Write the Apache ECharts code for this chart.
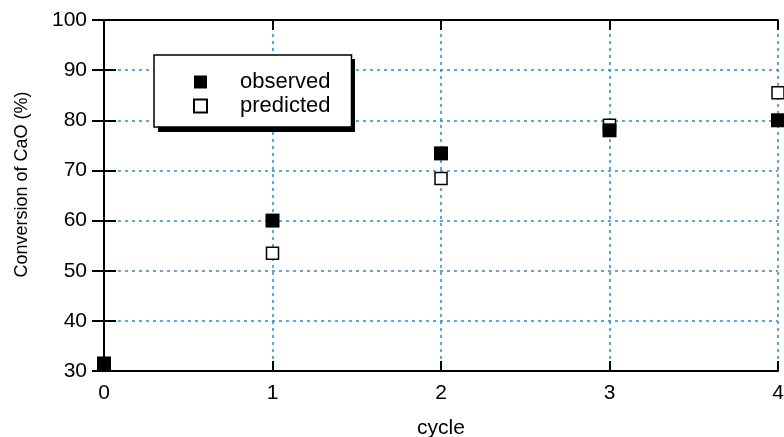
<!DOCTYPE html>
<html><head><meta charset="utf-8">
<script src="https://cdn.jsdelivr.net/npm/echarts@6/dist/echarts.min.js"></script>
<style>html,body{margin:0;padding:0;background:#fff}#c{width:784px;height:437px}</style>
</head><body><div id="c"></div>
<script>
const cycles = [0, 1, 2, 3, 4];
const observed = [31.5, 60, 73.4, 78, 80];
const predictedCycles = [1, 2, 3, 4];
const predicted = [53.5, 68.4, 79, 85.5];
const yTicks = [30, 40, 50, 60, 70, 80, 90, 100];

const chart = echarts.init(document.getElementById('c'));
const font = 'Liberation Sans, Arial, Helvetica, sans-serif';
const grid = '#3189c2';
chart.setOption({
  animation: false,
  textStyle: {fontFamily: font},
  grid: {left: 104, right: 6, top: 20, bottom: 66, outerBoundsMode: 'none', containLabel: false},
  graphic: [{
    type: 'rect', left: 158, top: 59, z: 1,
    shape: {width: 197, height: 73},
    style: {fill: '#000'}
  }],
  legend: {
    orient: 'vertical', left: 154, top: 55, z: 5,
    data: ['observed', 'predicted'],
    itemWidth: 13, itemHeight: 13, itemGap: 0,
    padding: [15, 21, 9, 39],
    backgroundColor: '#fff', borderColor: '#000', borderWidth: 1.5,
    textStyle: {fontSize: 22, color: '#000', fontFamily: font, lineHeight: 24, padding: [0, 0, 0, 28]},
    icon: 'rect'
  },
  xAxis: [{
    type: 'value', min: 0, max: 4, interval: 1,
    name: 'cycle', nameLocation: 'middle', nameGap: 47,
    nameTextStyle: {fontSize: 21, color: '#000'},
    axisLine: {show: true, lineStyle: {color: '#000', width: 2}},
    axisTick: {inside: true, length: 10, lineStyle: {color: '#000', width: 2}},
    axisLabel: {fontSize: 21, color: '#000', margin: 12, formatter: v => cycles.includes(v) ? String(v) : ''},
    splitLine: {show: true, lineStyle: {color: grid, width: 1.5, type: [3, 4]}}
  }, {
    type: 'value', min: 0, max: 4, interval: 1, position: 'top',
    axisLine: {show: true, lineStyle: {color: '#000', width: 2}},
    axisTick: {inside: true, length: 10, lineStyle: {color: '#000', width: 2}},
    axisLabel: {show: false}, splitLine: {show: false}
  }],
  yAxis: [{
    type: 'value', min: 30, max: 100, interval: 10,
    name: 'Conversion of CaO (%)', nameLocation: 'middle', nameGap: 73,
    nameTextStyle: {fontSize: 18, color: '#000', padding: [0, 0, 0, 22]},
    axisLine: {show: true, lineStyle: {color: '#000', width: 2}},
    axisTick: {inside: true, length: 12, lineStyle: {color: '#000', width: 2}},
    axisLabel: {fontSize: 21, color: '#000', margin: 17, formatter: v => yTicks.includes(v) ? String(v) : ''},
    splitLine: {show: true, lineStyle: {color: grid, width: 1.5, type: [3, 4]}}
  }, {
    type: 'value', min: 30, max: 100, interval: 10, position: 'right',
    axisLine: {show: true, lineStyle: {color: '#000', width: 2}},
    axisTick: {inside: true, length: 12, lineStyle: {color: '#000', width: 2}},
    axisLabel: {show: false}, splitLine: {show: false}
  }],
  series: [{
    name: 'predicted', type: 'scatter', symbol: 'rect', symbolSize: 12, clip: false, z: 3,
    itemStyle: {color: '#fff', borderColor: '#000', borderWidth: 1.5, opacity: 1},
    data: predictedCycles.map((c, i) => [c, predicted[i]])
  }, {
    name: 'observed', type: 'scatter', symbol: 'rect', symbolSize: 14, clip: false, z: 4,
    itemStyle: {color: '#000', borderColor: '#000', borderWidth: 0, opacity: 1},
    data: cycles.map((c, i) => [c, observed[i]])
  }]
});
</script></body></html>
